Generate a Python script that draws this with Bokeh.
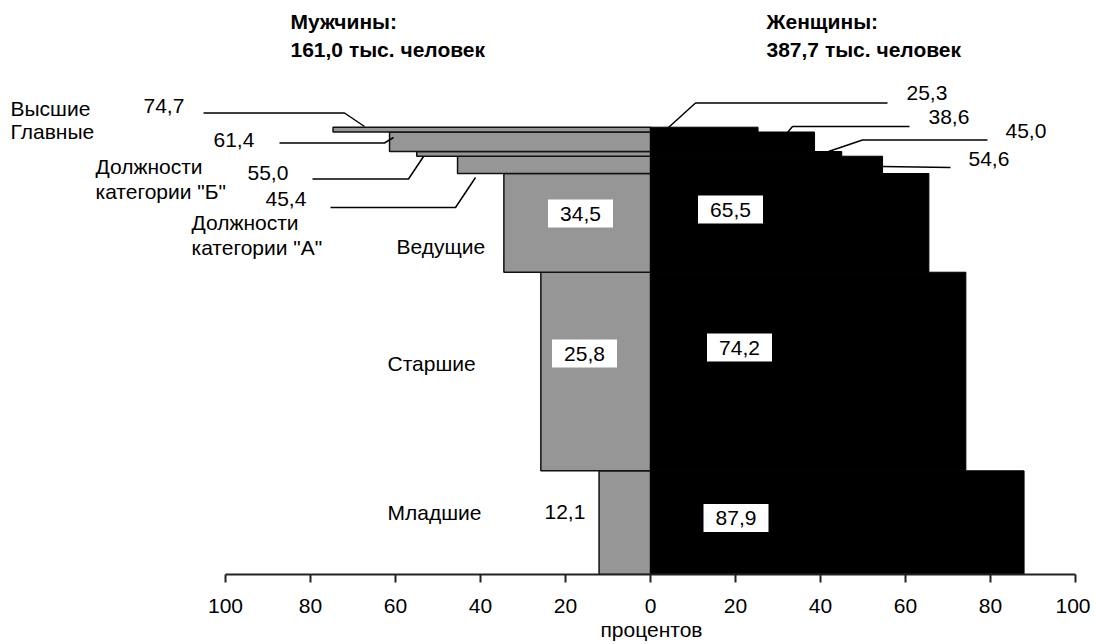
import numpy as np
from bokeh.plotting import figure
from bokeh.models import Range1d, FixedTicker, CustomJSTickFormatter, Title
from bokeh.core.properties import value
from bokeh.embed import file_html
from bokeh.resources import INLINE

# ---------------- data (top to bottom) ----------------
categories = ["Высшие", "Главные", 'Должности\nкатегории "Б"', 'Должности\nкатегории "А"',
              "Ведущие", "Старшие", "Младшие"]
men_pct = [74.7, 61.4, 55.0, 45.4, 34.5, 25.8, 12.1]
women_pct = [25.3, 38.6, 45.0, 54.6, 65.5, 74.2, 87.9]
# size of each category, thousand persons (bar heights)
size_thousand = [5.9, 23.9, 5.8, 21.2, 121.1, 243.6, 127.2]
men_total = "161,0"
women_total = "387,7"
tick_values = [-100, -80, -60, -40, -20, 0, 20, 40, 60, 80, 100]
x_label = "процентов"

FONT = value("Liberation Sans")
FS = "21px"

def fmt(v):
    return f"{v:.1f}".replace(".", ",")

# ---------------- geometry ----------------
ORIGIN = 0
W, H = 1090, 644
AXIS_PX = 574              # page y of axis
BOTTOM = H - AXIS_PX
PX_PER_PCT = 4.25          # horizontal scale
ZERO_PX = 650              # page x of 0
STACK_PX = 447.3           # page height of whole stack
total = float(np.sum(size_thousand))
ppu = STACK_PX / total

x0 = -(ZERO_PX - ORIGIN) / PX_PER_PCT
x1 = (ORIGIN + W - ZERO_PX) / PX_PER_PCT
y1 = (AXIS_PX - ORIGIN) / ppu

def px2x(px):
    return (px - ZERO_PX) / PX_PER_PCT

def px2y(py):
    return (AXIS_PX - py) / ppu

# bars: bottom -> top
sizes_bt = np.array(size_thousand[::-1])
bottoms = np.concatenate([[0], np.cumsum(sizes_bt)[:-1]])
tops = bottoms + sizes_bt
men_bt = np.array(men_pct[::-1])
women_bt = np.array(women_pct[::-1])

p = figure(width=W, height=H, x_range=Range1d(x0, x1), y_range=Range1d(0, y1),
           output_backend="svg", toolbar_location=None, y_axis_location=None,
           min_border_left=0, min_border_right=0, min_border_top=0, min_border_bottom=BOTTOM)
p.grid.visible = False
p.outline_line_color = None
p.background_fill_color = "white"

p.quad(left=-men_bt, right=0, bottom=bottoms, top=tops,
       fill_color="#969696", line_color="#111111", line_width=1.5)
p.quad(left=0, right=women_bt, bottom=bottoms, top=tops,
       fill_color="black", line_color="black", line_width=1)

# axis
ax = p.xaxis[0]
ax.bounds = (-100, 100)
ax.ticker = FixedTicker(ticks=tick_values)
ax.formatter = CustomJSTickFormatter(code="return Math.abs(tick).toString();")
ax.axis_line_width = 2
ax.axis_line_color = "#222222"
ax.major_tick_line_width = 2
ax.major_tick_line_color = "#222222"
ax.major_tick_in = 0
ax.major_tick_out = 8
ax.minor_tick_line_color = None
ax.major_label_text_font = "Liberation Sans"
ax.major_label_text_font_size = FS
ax.major_label_text_color = "black"
ax.major_label_standoff = 16

# axis caption centred under 0 (title panel below the axis, shifted from the left edge)
p.add_layout(Title(text=x_label, align="left", offset=ZERO_PX - ORIGIN - 50,
                   text_font="Liberation Sans", text_font_size=FS,
                   text_font_style="normal", text_color="black", standoff=0), "below")

def txt(x, y, s, size=FS, align="left", bold=False):
    p.text(x=[x], y=[y], text=[s], text_font=FONT, text_font_size=size,
           text_align=align, text_baseline="middle", text_color="black",
           text_font_style="bold" if bold else "normal")

# titles
txt(px2x(290), px2y(21), "Мужчины:", bold=True)
txt(px2x(290), px2y(49), f"{men_total} тыс. человек", bold=True)
txt(px2x(766), px2y(21), "Женщины:", bold=True)
txt(px2x(766), px2y(49), f"{women_total} тыс. человек", bold=True)

# ---------------- category labels (page-pixel layout) ----------------
cat_pos = [(10, 108), (10, 131), (95, 166), (191, 222), (396, 246), (387, 363), (387, 512)]
for name, (lx, ly) in zip(categories, cat_pos):
    for i, line in enumerate(name.split("\n")):
        txt(px2x(lx), px2y(ly + i * 25), line)

# men small-category values with leader lines
men_val_pos = [(143, 105), (213, 139), (247, 172), (265, 198)]
men_leaders = [[(203, 112.5), (344, 112.5), (364, 126)],
               [(279, 142.5), (384, 142.5), (393, 137)],
               [(312, 178.5), (408, 178.5), (423, 156)],
               [(330, 207), (455, 207), (475, 177)]]
for v, (lx, ly), pts in zip(men_pct[:4], men_val_pos, men_leaders):
    txt(px2x(lx), px2y(ly), fmt(v))
    p.line([px2x(a) for a, b in pts], [px2y(b) for a, b in pts], line_color="black", line_width=1.5)

women_val_pos = [(906, 92), (928, 116), (1005, 130), (968, 158)]
women_leaders = [[(668, 127), (695, 102.5), (887, 102.5)],
                 [(787, 132), (792, 126), (909, 126)],
                 [(828, 151), (862, 139.5), (987, 139.5)],
                 [(881, 166), (950, 167)]]
for v, (lx, ly), pts in zip(women_pct[:4], women_val_pos, women_leaders):
    txt(px2x(lx), px2y(ly), fmt(v))
    p.line([px2x(a) for a, b in pts], [px2y(b) for a, b in pts], line_color="black", line_width=1.5)

# boxed values for the large categories
box_pos_men = [(580, 213), (584, 353), None]
box_pos_women = [(730, 209), (739, 347), (735.5, 517.5)]
for v, bp in zip(men_pct[4:], box_pos_men):
    if bp is None:
        continue
    p.rect(x=[px2x(bp[0])], y=[px2y(bp[1])], width=65, height=28, width_units="screen",
           height_units="screen", fill_color="white", line_color=None)
    txt(px2x(bp[0]), px2y(bp[1]), fmt(v), align="center")
for v, bp in zip(women_pct[4:], box_pos_women):
    p.rect(x=[px2x(bp[0])], y=[px2y(bp[1])], width=65, height=28, width_units="screen",
           height_units="screen", fill_color="white", line_color=None)
    txt(px2x(bp[0]), px2y(bp[1]), fmt(v), align="center")
# unboxed small value for the last men bar
txt(px2x(544), px2y(511), fmt(men_pct[6]))

open("out.html", "w").write(file_html(p, INLINE))
